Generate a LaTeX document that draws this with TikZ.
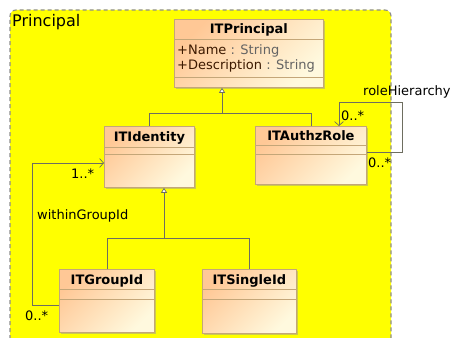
\documentclass[tikz,border=0pt]{standalone}
\usepackage{fontspec}
\setmainfont{DejaVu Sans}
\usetikzlibrary{arrows.meta,shadows,calc}
\definecolor{pkgyellow}{RGB}{255,255,0}
\definecolor{pkgborder}{RGB}{140,140,140}
\definecolor{clsA}{RGB}{255,200,150}
\definecolor{clsB}{RGB}{255,249,222}
\definecolor{clsborder}{RGB}{196,166,120}
\definecolor{linec}{RGB}{110,110,96}
\definecolor{attrname}{RGB}{60,25,0}
\definecolor{attrtype}{RGB}{100,100,100}
\begin{document}
\begin{tikzpicture}[x=1pt,y=-1pt,
  font=\fontsize{13}{15}\selectfont,
  cls/.style={draw=clsborder, line width=0.8pt, top color=clsA, bottom color=clsB, shading angle=45,
    drop shadow={shadow xshift=2pt, shadow yshift=-2pt, fill=black!40, opacity=0.5},
    inner sep=0pt, anchor=north west},
  cname/.style={font=\fontsize{13}{15}\selectfont\bfseries, anchor=base, inner sep=0pt},
  sep/.style={draw=clsborder, line width=0.8pt},
  lbl/.style={anchor=base west, inner sep=0pt},
  line/.style={draw=linec, line width=0.7pt},
  gen/.style={line, -{Triangle[open, length=5pt, width=6pt, fill=white]}},
  assoc/.style={line, -{Straight Barb[length=4pt, width=9pt]}}
]
\useasboundingbox (0,0) rectangle (454,337);
% package
\path[fill=pkgyellow, rounded corners=6pt] (10,360) -- (10,10) -- (391,10) -- (391,360) -- cycle;
\draw[pkgborder, line width=1.1pt, dash pattern=on 4pt off 3pt, rounded corners=6pt] (10,360) -- (10,10) -- (391,10) -- (391,360);
\node[lbl, font=\fontsize{16}{18}\selectfont] (pkglabel) at (12,27) {Principal};

% classes
\node[cls, minimum width=149pt, minimum height=68pt] (princ) at (174,19) {};
\node[cname] (princn) at ($(princ.north)+(0,15)$) {ITPrincipal};
\draw[sep] ($(princ.north west)+(0,20)$) -- ($(princ.north east)+(0,20)$);
\draw[sep] ($(princ.south west)+(0,-10)$) -- ($(princ.south east)+(0,-10)$);
\node[lbl] (pa1) at ($(princ.north west)+(3,35)$) {\textcolor{attrname}{+Name} \textcolor{attrtype}{: String}};
\node[lbl] (pa2) at ($(princ.north west)+(3,50.5)$) {\textcolor{attrname}{+Description} \textcolor{attrtype}{: String}};

\node[cls, minimum width=90pt, minimum height=61pt] (ident) at (104,126) {};
\node[cname] (identn) at ($(ident.north)+(0,15)$) {ITIdentity};
\draw[sep] ($(ident.north west)+(0,21)$) -- ($(ident.north east)+(0,21)$);
\draw[sep] ($(ident.north west)+(0,28)$) -- ($(ident.north east)+(0,28)$);

\node[cls, minimum width=111pt, minimum height=58pt] (role) at (255,126) {};
\node[cname] (rolen) at ($(role.north)+(0,14.5)$) {ITAuthzRole};
\draw[sep] ($(role.north west)+(0,19)$) -- ($(role.north east)+(0,19)$);
\draw[sep] ($(role.north west)+(0,28)$) -- ($(role.north east)+(0,28)$);

\node[cls, minimum width=95pt, minimum height=63pt] (gid) at (59,269) {};
\node[cname] (gidn) at ($(gid.north)+(0,15)$) {ITGroupId};
\draw[sep] ($(gid.north west)+(0,20)$) -- ($(gid.north east)+(0,20)$);
\draw[sep] ($(gid.north west)+(0,30)$) -- ($(gid.north east)+(0,30)$);

\node[cls, minimum width=94pt, minimum height=64pt] (sid) at (202,269) {};
\node[cname] (sidn) at ($(sid.north)+(0,15)$) {ITSingleId};
\draw[sep] ($(sid.north west)+(0,20)$) -- ($(sid.north east)+(0,20)$);
\draw[sep] ($(sid.north west)+(0,30)$) -- ($(sid.north east)+(0,30)$);

% generalizations
\coordinate (j1) at (222,113);
\draw[line] (ident.north) |- (role.north |- j1) -- (role.north);
\draw[gen] (j1) -- (j1 |- princ.south);
\coordinate (j2) at (164,238);
\draw[line] (gid.north) |- (sid.north |- j2) -- (sid.north);
\draw[gen] (j2) -- (j2 |- ident.south);

% withinGroupId
\coordinate (a1) at (32,305);
\coordinate (a2) at (32,163);
\draw[assoc] (gid.west |- a1) -- (a1) -- (a2) -- (a2 -| ident.west);
\node[lbl] (m1) at (71,178) {1..*};
\node[lbl] (wg) at (37,219) {withinGroupId};
\node[lbl] (m2) at (25,320) {0..*};

% roleHierarchy
\coordinate (r1) at (402,152);
\coordinate (r2) at (402,102);
\coordinate (r3) at (339,102);
\draw[assoc] (role.east |- r1) -- (r1) -- (r2) -- (r3) -- (r3 |- role.north);
\node[lbl] (rh) at (363,95) {roleHierarchy};
\node[lbl] (m3) at (341,120.5) {0..*};
\node[lbl] (m4) at (368,167) {0..*};
\end{tikzpicture}
\end{document}
